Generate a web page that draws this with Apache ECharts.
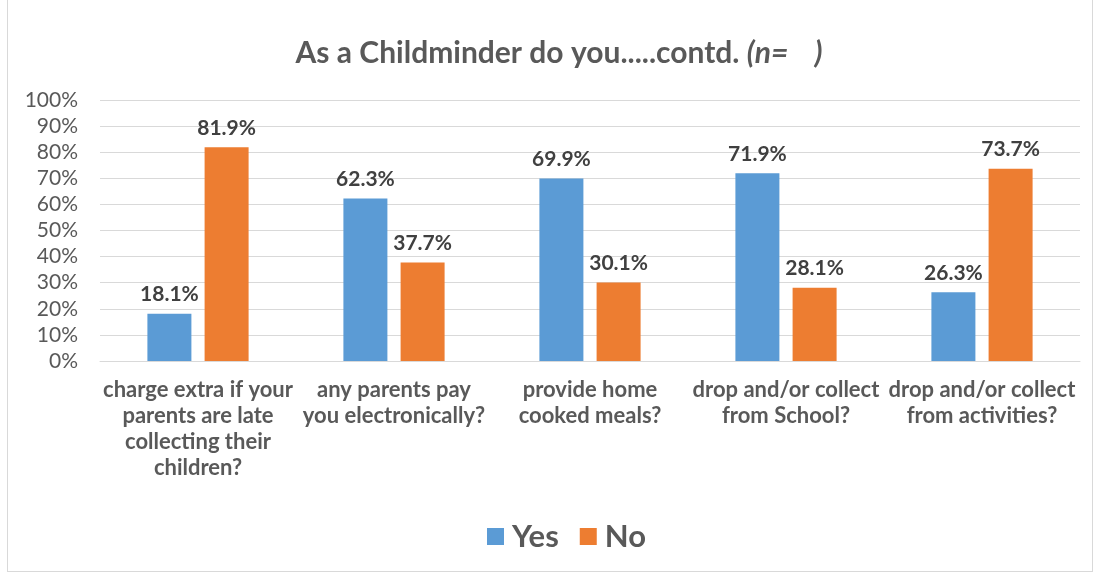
<!DOCTYPE html>
<html>
<head>
<meta charset="utf-8">
<script src="https://cdn.jsdelivr.net/npm/echarts@6/dist/echarts.min.js"></script>
<style>
  html, body { margin: 0; padding: 0; background: #fff; }
  #frame { position: absolute; left: 7px; top: 0; width: 1086px; height: 572px; border: 1px solid #d9d9d9; border-top: none; box-sizing: border-box; }
  #chart { position: absolute; left: 0; top: 0; width: 1096px; height: 575px; }
</style>
</head>
<body>
<div id="frame"></div>
<div id="chart"></div>
<script>
// Survey questions (category axis)
const categories = [
  'charge extra if your\nparents are late\ncollecting their\nchildren?',
  'any parents pay\nyou electronically?',
  'provide home\ncooked meals?',
  'drop and/or collect\nfrom School?',
  'drop and/or collect\nfrom activities?'
];
// Share of responses, percent
const yesValues = [18.1, 62.3, 69.9, 71.9, 26.3];
const noValues = [81.9, 37.7, 30.1, 28.1, 73.7];
const seriesNames = ['Yes', 'No'];

const font = 'Lato, "Open Sans", sans-serif';
const chart = echarts.init(document.getElementById('chart'), null, { renderer: 'canvas' });

const labelStyle = {
  show: true,
  position: 'top',
  distance: 9,
  fontFamily: font,
  fontWeight: 'bold',
  fontSize: 21,
  color: '#404040',
  formatter: p => p.value.toFixed(1) + '%'
};

chart.setOption({
  animation: false,
  title: {
    text: 'As a Childminder do you.....contd. {i|(n=    )}',
    left: 554,
    textAlign: 'center',
    top: 33,
    textStyle: {
      fontFamily: font,
      fontWeight: 'bold',
      fontSize: 30,
      color: '#595959',
      rich: {
        i: { fontFamily: font, fontWeight: 'bold', fontStyle: 'italic', fontSize: 30, color: '#595959' }
      }
    }
  },
  legend: {
    data: seriesNames,
    bottom: 18,
    left: 482,
    itemWidth: 17,
    itemHeight: 17,
    itemGap: 21,
    icon: 'rect',
    textStyle: { fontFamily: font, fontWeight: 'bold', fontSize: 31, color: '#595959', padding: [0, 0, 0, 3] }
  },
  grid: { left: 100, right: 16, top: 100, bottom: 214 },
  xAxis: {
    type: 'category',
    data: categories,
    axisLine: { lineStyle: { color: '#d9d9d9' } },
    axisTick: { show: false },
    axisLabel: {
      interval: 0,
      margin: 16,
      fontFamily: font,
      fontWeight: 'bold',
      fontSize: 22,
      lineHeight: 26,
      color: '#595959'
    }
  },
  yAxis: {
    type: 'value',
    min: 0,
    max: 100,
    interval: 10,
    axisLine: { show: false },
    axisTick: { show: false },
    axisLabel: {
      margin: 22,
      fontFamily: font,
      fontSize: 21,
      color: '#595959',
      formatter: v => v + '%'
    },
    splitLine: { lineStyle: { color: '#d9d9d9', width: 1 } }
  },
  series: [
    {
      name: seriesNames[0],
      type: 'bar',
      data: yesValues,
      barWidth: 44,
      barGap: '30%',
      itemStyle: { color: '#5b9bd5' },
      label: labelStyle
    },
    {
      name: seriesNames[1],
      type: 'bar',
      data: noValues,
      barWidth: 44,
      barGap: '30%',
      itemStyle: { color: '#ed7d31' },
      label: labelStyle
    }
  ]
});
</script>
</body>
</html>
